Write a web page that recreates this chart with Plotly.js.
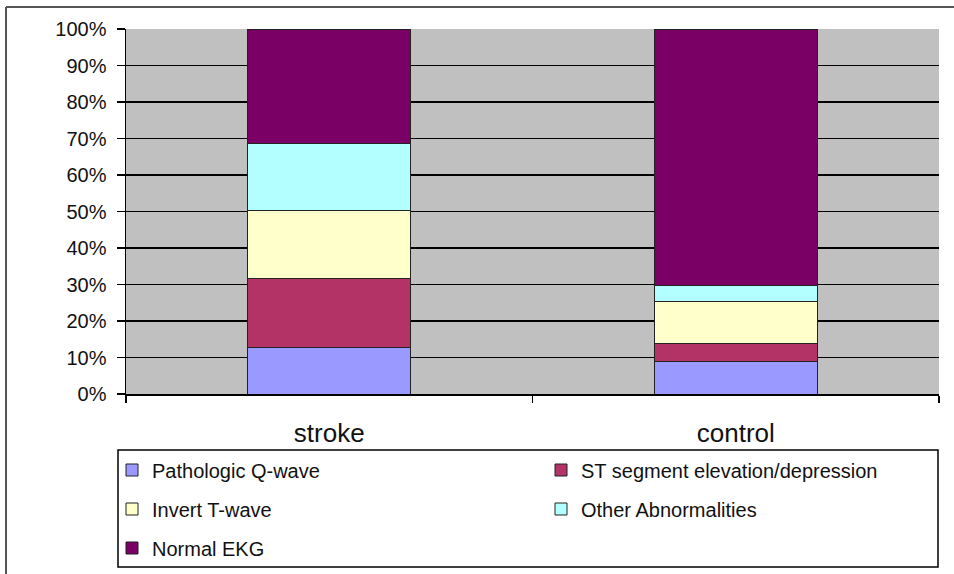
<!DOCTYPE html>
<html>
<head>
<meta charset="utf-8">
<script src="https://cdn.plot.ly/plotly-3.0.1.min.js"></script>
<style>
  html, body { margin: 0; padding: 0; background: #ffffff; }
  #chart { width: 954px; height: 574px; }
</style>
</head>
<body>
<div id="chart"></div>
<script>
// ---- data ----
const categories = ["stroke", "control"];
const seriesNames = ["Pathologic Q-wave", "ST segment elevation/depression", "Invert T-wave", "Other Abnormalities", "Normal EKG"];
const qWave   = [12.7, 8.8];
const stSeg   = [18.9, 5.0];
const invertT = [18.8, 11.6];
const other   = [18.1, 4.3];
const normal  = [31.5, 70.3];
const yTicks  = [0, 10, 20, 30, 40, 50, 60, 70, 80, 90, 100];
const yTickText = ["0%", "10%", "20%", "30%", "40%", "50%", "60%", "70%", "80%", "90%", "100%"];

const colors = ["#9999FF", "#B33366", "#FFFFCC", "#B3FFFF", "#7A0066"];
const legendIds = ["legend", "legend2", "legend3", "legend4", "legend5"];
const values = [qWave, stSeg, invertT, other, normal];

const FONT = "Liberation Sans, Arial, sans-serif";

const traces = values.map((v, i) => ({
  type: "bar",
  name: seriesNames[i],
  x: categories,
  y: v,
  width: 0.4,
  legend: legendIds[i],
  marker: { color: colors[i], line: { color: "#222222", width: 1 } },
  hoverinfo: "name+y"
}));

// plot area in px: left 126, right 939, top 29, bottom 394
const W = 954, H = 574, L = 126, R = 939, T = 29, B = 394;
const px = x => (x - L) / (R - L);
const py = y => (B - y) / (B - T);

function leg(xPx, yPx) {
  return {
    orientation: "h",
    xanchor: "left",
    yanchor: "middle",
    x: px(xPx),
    y: py(yPx),
    bgcolor: "rgba(0,0,0,0)",
    borderwidth: 0,
    font: { family: FONT, size: 20, color: "#111111" }
  };
}

const layout = {
  width: W,
  height: H,
  margin: { l: L, r: W - R, t: T, b: H - B, pad: 0, autoexpand: false },
  paper_bgcolor: "#ffffff",
  plot_bgcolor: "#C0C0C0",
  barmode: "stack",
  bargap: 0.6,
  showlegend: true,
  legend:  leg(112, 470),
  legend2: leg(541, 470),
  legend3: leg(112, 509),
  legend4: leg(541, 509),
  legend5: leg(112, 548),
  xaxis: {
    type: "category",
    tickson: "boundaries",
    ticks: "outside",
    ticklen: 7,
    tickwidth: 1.5,
    tickcolor: "#000000",
    showline: true,
    linecolor: "#000000",
    linewidth: 1.5,
    showgrid: false,
    ticklabelstandoff: 15,
    tickfont: { family: FONT, size: 26, color: "#111111" }
  },
  yaxis: {
    range: [0, 100],
    tickvals: yTicks,
    ticktext: yTickText,
    ticks: "outside",
    ticklen: 8,
    tickwidth: 1.5,
    tickcolor: "#000000",
    showline: true,
    linecolor: "#000000",
    linewidth: 1.5,
    showgrid: true,
    gridcolor: "#000000",
    gridwidth: 1.5,
    zeroline: false,
    ticklabelstandoff: 6,
    tickfont: { family: FONT, size: 20, color: "#111111" }
  },
  shapes: [
    // legend box
    { type: "rect", xref: "paper", yref: "paper", x0: px(118), x1: px(938), y0: py(567), y1: py(450),
      line: { color: "#000000", width: 1.5 }, fillcolor: "rgba(0,0,0,0)", layer: "below" },
    // outer chart frame (top and left edges visible)
    { type: "line", xref: "paper", yref: "paper", x0: px(6), x1: px(954), y0: py(7), y1: py(7),
      line: { color: "#555555", width: 2 } },
    { type: "line", xref: "paper", yref: "paper", x0: px(6), x1: px(6), y0: py(7), y1: py(574),
      line: { color: "#555555", width: 2 } }
  ]
};

Plotly.newPlot("chart", traces, layout, { displayModeBar: false, staticPlot: true });
</script>
</body>
</html>
